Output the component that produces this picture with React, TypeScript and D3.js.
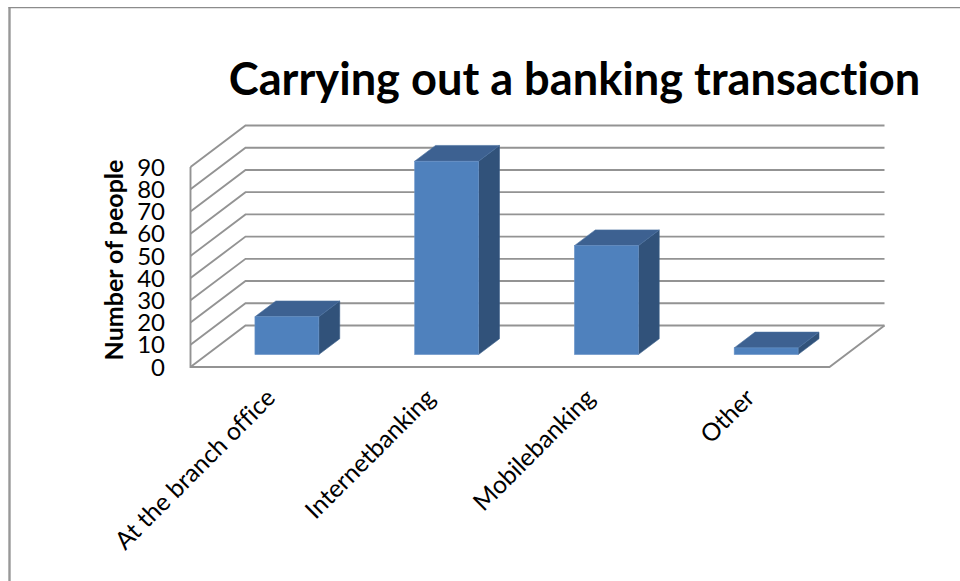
import React from "react";
import * as d3 from "d3";

const categories = ["At the branch office", "Internetbanking", "Mobilebanking", "Other"];
const counts = [17, 87, 49, 3];
const yTicks = [0, 10, 20, 30, 40, 50, 60, 70, 80, 90];
const titleText = "Carrying out a banking transaction";
const yAxisTitle = "Number of people";

const FONT = "Lato, 'Open Sans', sans-serif";
const GRID = "#939393";
const NO_LIGATURES: React.CSSProperties = { fontVariantLigatures: "none" };

// Oblique projection: the floor recedes by this offset from front to back.
const depthX = 55;
const depthY = -41.5;
const barNear = 0.3;
const barFar = 0.68;

const x = d3.scaleBand<string>().domain(categories).range([190.5, 829.5]).paddingInner(0.6).paddingOuter(0.3);
const y = d3.scaleLinear().domain([0, 90]).range([367, 167]);

const polygon = (pts: [number, number][]) => (d3.line()(pts) ?? "") + "Z";

export default function App() {
  const bw = x.bandwidth();
  const [x0, x1] = x.range();
  return (
    <svg width={960} height={581} style={{ position: "absolute", left: 0, top: 0, background: "#fff" }}>
      {/* outer frame, open on the right and at the bottom */}
      <path d="M9.5,581V7.5" fill="none" stroke="#989898" strokeWidth={2.4} />
      <path d="M8.3,7.6H960" fill="none" stroke="#8c8c8c" strokeWidth={1.4} />

      {/* walls and gridlines */}
      {yTicks.map((t) => (
        <path
          key={t}
          d={d3.line()([
            [x0, y(t)],
            [x0 + depthX, y(t) + depthY],
            [x1 + depthX, y(t) + depthY],
          ]) ?? ""}
          fill="none"
          stroke={GRID}
          strokeWidth={1.9}
        />
      ))}
      {/* floor edges and the front of the value axis */}
      <path
        d={d3.line()([
          [x0, y(90)],
          [x0, y(0)],
          [x1, y(0)],
          [x1 + depthX, y(0) + depthY],
        ]) ?? ""}
        fill="none"
        stroke={GRID}
        strokeWidth={1.9}
      />

      {/* value-axis tick labels */}
      {yTicks.map((t) => (
        <text key={t} x={165} y={y(t)} dy="0.36em" textAnchor="end" fontFamily={FONT} fontSize={24} fill="#000">
          {t}
        </text>
      ))}
      <text
        transform="translate(123,260) rotate(-90)"
        textAnchor="middle"
        fontFamily={FONT}
        fontWeight={700}
        fontSize={25}
        fill="#000"
        style={NO_LIGATURES}
      >
        {yAxisTitle}
      </text>

      {/* bars as three-faced boxes */}
      {categories.map((c, i) => {
        const left = (x(c) ?? 0) + barNear * depthX;
        const right = left + bw;
        const base = y(0) + barNear * depthY;
        const top = base - (y(0) - y(counts[i]));
        const dx = (barFar - barNear) * depthX;
        const dy = (barFar - barNear) * depthY;
        return (
          <g key={c}>
            <path
              d={polygon([
                [right, top],
                [right + dx, top + dy],
                [right + dx, base + dy],
                [right, base],
              ])}
              fill="#31527a"
              stroke="#3a5f8c"
              strokeWidth={0.6}
            />
            <path
              d={polygon([
                [left, top],
                [left + dx, top + dy],
                [right + dx, top + dy],
                [right, top],
              ])}
              fill="#3d6191"
              stroke="#4a70a0"
              strokeWidth={0.6}
            />
            <rect x={left} y={top} width={bw} height={base - top} fill="#4f81bd" stroke="#6a94c8" strokeWidth={0.6} />
          </g>
        );
      })}

      {/* category labels, rotated and ending under each slot */}
      {categories.map((c) => (
        <text
          key={c}
          transform={`translate(${(x(c) ?? 0) + bw / 2 + 2},${395}) rotate(-45)`}
          textAnchor="end"
          dominantBaseline="middle"
          fontFamily={FONT}
          fontSize={24.6}
          fill="#000"
          style={NO_LIGATURES}
        >
          {c}
        </text>
      ))}

      <text x={574.5} y={95} textAnchor="middle" fontFamily={FONT} fontWeight={700} fontSize={45.2} fill="#000" style={NO_LIGATURES}>
        {titleText}
      </text>
    </svg>
  );
}
